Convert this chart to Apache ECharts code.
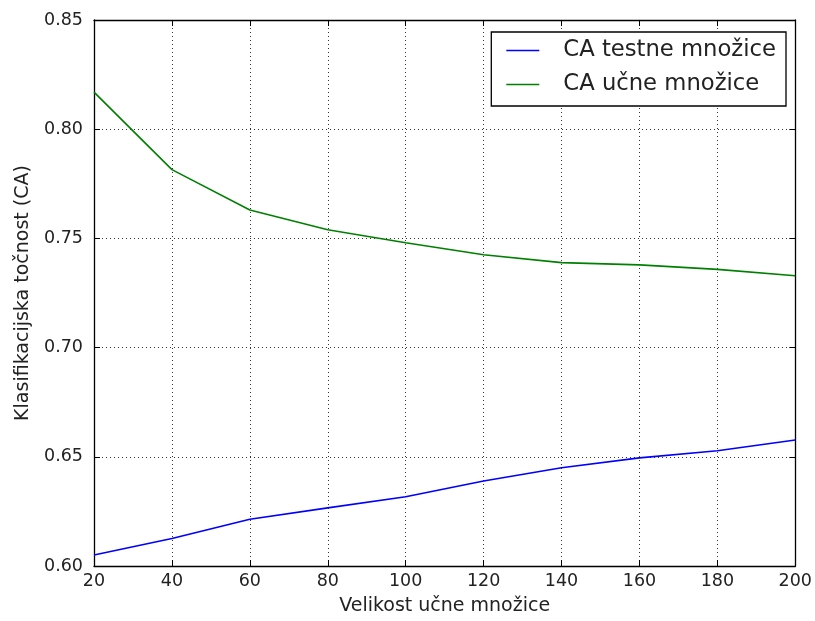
<!DOCTYPE html>
<html>
<head>
<meta charset="utf-8">
<script src="https://cdn.jsdelivr.net/npm/echarts@6/dist/echarts.min.js"></script>
<style>
  html, body { margin: 0; padding: 0; background: #fff; }
  #chart { width: 815px; height: 621px; }
</style>
</head>
<body>
<div id="chart"></div>
<script>
// Training set sizes
const sizes = [20, 40, 60, 80, 100, 120, 140, 160, 180, 200];
// Classification accuracy on the test set
const caTest = [0.605, 0.6126, 0.6214, 0.6266, 0.6317, 0.6389, 0.6450, 0.6495, 0.6528, 0.6577];
// Classification accuracy on the training set
const caTrain = [0.817, 0.7815, 0.763, 0.754, 0.748, 0.7425, 0.7389, 0.7379, 0.7358, 0.7329];

const seriesNames = ['CA testne množice', 'CA učne množice'];
const xTitle = 'Velikost učne množice';
const yTitle = 'Klasifikacijska točnost (CA)';

const font = 'DejaVu Sans';
const chart = echarts.init(document.getElementById('chart'), null, { renderer: 'canvas' });

const frameAxis = {
  axisLine: { show: true, lineStyle: { color: '#000', width: 1.3 } },
  axisTick: { show: true, inside: true, length: 6, lineStyle: { color: '#000' } },
  splitLine: { show: false },
  axisLabel: { show: false }
};

const gridDots = { show: true, lineStyle: { color: '#333', type: [1, 3], width: 1 } };

chart.setOption({
  animation: false,
  backgroundColor: '#fff',
  textStyle: { fontFamily: font },
  grid: { left: 94, right: 18, top: 20, bottom: 55, containLabel: false },
  legend: {
    right: 29, top: 32,
    orient: 'vertical',
    data: seriesNames,
    icon: 'rect',
    itemWidth: 33, itemHeight: 1.6,
    itemGap: 11,
    padding: [7, 10, 10, 15],
    borderColor: '#000', borderWidth: 1.3, borderRadius: 0,
    backgroundColor: '#fff',
    textStyle: { fontFamily: font, fontSize: 22.7, lineHeight: 22, color: '#222', padding: [0, 0, 0, 19] }
  },
  xAxis: [
    {
      type: 'value', min: 20, max: 200, interval: 20,
      name: xTitle, nameLocation: 'middle', nameGap: 31,
      nameTextStyle: { fontFamily: font, fontSize: 19, color: '#222' },
      axisLine: { show: true, lineStyle: { color: '#000', width: 1.3 } },
      axisTick: { show: true, inside: true, length: 6, lineStyle: { color: '#000' } },
      axisLabel: { fontFamily: font, fontSize: 17.5, color: '#222', margin: 6 },
      splitLine: gridDots
    },
    Object.assign({ type: 'value', min: 20, max: 200, interval: 20, position: 'top' }, frameAxis)
  ],
  yAxis: [
    {
      type: 'value', min: 0.6, max: 0.85, interval: 0.05,
      name: yTitle, nameLocation: 'middle', nameGap: 61, nameRotate: 90,
      nameTextStyle: { fontFamily: font, fontSize: 19, color: '#222' },
      axisLine: { show: true, lineStyle: { color: '#000', width: 1.3 } },
      axisTick: { show: true, inside: true, length: 6, lineStyle: { color: '#000' } },
      axisLabel: { fontFamily: font, fontSize: 17.5, color: '#222', margin: 11,
                   formatter: v => v.toFixed(2) },
      splitLine: gridDots
    },
    Object.assign({ type: 'value', min: 0.6, max: 0.85, interval: 0.05, position: 'right' }, frameAxis)
  ],
  series: [
    {
      name: seriesNames[0], type: 'line',
      data: sizes.map((s, i) => [s, caTest[i]]),
      showSymbol: false, symbol: 'none',
      lineStyle: { color: '#0000ff', width: 1.6 },
      itemStyle: { color: '#0000ff' }
    },
    {
      name: seriesNames[1], type: 'line',
      data: sizes.map((s, i) => [s, caTrain[i]]),
      showSymbol: false, symbol: 'none',
      lineStyle: { color: '#008000', width: 1.6 },
      itemStyle: { color: '#008000' }
    }
  ]
});
</script>
</body>
</html>
